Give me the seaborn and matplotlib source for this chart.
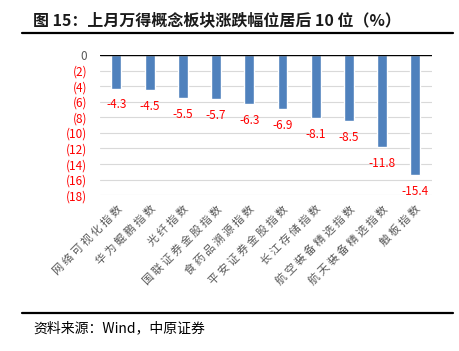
"""上月万得概念板块涨跌幅位居后 10 位 — 柱状图复刻。"""

import matplotlib

matplotlib.use("Agg")
import matplotlib.pyplot as plt
import pandas as pd
import seaborn as sns
from matplotlib.lines import Line2D

BANKUAI = [
    "网络可视化指数", "华为鲲鹏指数", "光纤指数", "国联证券金股指数",
    "食药品溯源指数", "平安证券金股指数", "长江存储指数",
    "航空装备精选指数", "航天装备精选指数", "触板指数",
]
ZHANGDIE = [-4.3, -4.5, -5.5, -5.7, -6.3, -6.9, -8.1, -8.5, -11.8, -15.4]
Y_TICKS = [0, -2, -4, -6, -8, -10, -12, -14, -16, -18]

BIAOTI = "图 15：上月万得概念板块涨跌幅位居后 10 位（%）"
LAIYUAN = "资料来源：Wind，中原证券"


def tick_metni(v):
    return "0" if v == 0 else f"({abs(v)})"


def main() -> None:
    sns.set_theme(style="white")
    plt.rcParams["font.family"] = ["Noto Sans CJK SC", "DejaVu Sans"]

    df = pd.DataFrame({"bankuai": BANKUAI, "zhangdie": ZHANGDIE})

    fig = plt.figure(figsize=(4.6, 3.51), dpi=100)
    ax = fig.add_axes([0.217, 0.444, 0.722, 0.399])
    sns.barplot(data=df, x="bankuai", y="zhangdie", color="#4F81BD",
                width=0.3, saturation=1, ax=ax)

    ax.set_ylim(-18, 0)
    ax.set_xlim(-0.5, len(BANKUAI) - 0.5)
    ax.set_yticks(Y_TICKS)
    ax.set_yticklabels([tick_metni(v) for v in Y_TICKS], fontsize=8.5)
    for lbl, v in zip(ax.get_yticklabels(), Y_TICKS):
        lbl.set_color("#595959" if v == 0 else "red")
    ax.grid(axis="y", color="#D9D9D9", linewidth=0.8)
    ax.set_axisbelow(True)
    ax.axhline(0, color="black", linewidth=1.0, zorder=3)
    for s in ax.spines.values():
        s.set_visible(False)
    ax.tick_params(axis="both", length=0)
    ax.tick_params(axis="y", pad=9)
    ax.set_xlabel("")
    ax.set_ylabel("")

    # 参考图里类目文字字距较宽，用空格拉开
    ax.set_xticks(range(len(BANKUAI)))
    ax.set_xticklabels([" ".join(b) for b in BANKUAI], rotation=45, ha="right",
                       rotation_mode="anchor", fontsize=8, color="#595959")
    ax.tick_params(axis="x", pad=6)

    ax.bar_label(ax.containers[0], labels=[f"{v}" for v in ZHANGDIE],
                 padding=7, color="red", fontsize=8.5)

    fig.text(0.072, 0.943, BIAOTI, fontsize=11.5, fontweight="bold",
             color="#1a1a1a", va="center", ha="left")
    fig.add_artist(Line2D([0.048, 0.985], [0.906, 0.906], color="black",
                          linewidth=1.6, transform=fig.transFigure))
    fig.add_artist(Line2D([0.048, 0.985], [0.108, 0.108], color="black",
                          linewidth=1.6, transform=fig.transFigure))
    fig.text(0.072, 0.066, LAIYUAN, fontsize=10, color="black",
             va="center", ha="left")

    fig.savefig("out.png", dpi=100)
    plt.close(fig)


if __name__ == "__main__":
    main()
